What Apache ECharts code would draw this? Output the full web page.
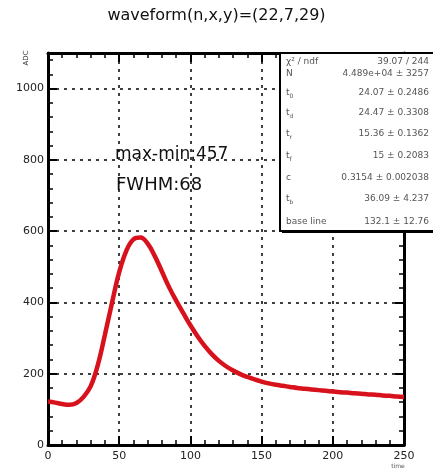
<!DOCTYPE html>
<html>
<head>
    <meta charset="utf-8">
    <title>waveform</title>
    <script src="https://cdn.jsdelivr.net/npm/echarts@6/dist/echarts.min.js"></script>
    <style>
        * {
            margin: 0;
            padding: 0;
        }
        #main {
            width: 433px;
            height: 471px;
            background: #fff;
        }
    </style>
</head>
<body>
<div id="main"></div>
<script>
    // sample times and fitted waveform values
    var times = [0, 5, 10, 15, 20, 25, 30, 35, 40, 45, 50, 55, 60, 65, 70, 75, 80, 85, 90, 95,
        100, 105, 110, 115, 120, 125, 130, 135, 140, 145, 150, 155, 160, 165, 170, 175, 180, 185, 190, 195,
        200, 205, 210, 215, 220, 225, 230, 235, 240, 245, 250];
    var adc = [122, 119, 115, 113, 118, 135, 165, 225, 310, 400, 485, 545, 577, 582, 565, 530, 487, 443, 405, 370,
        336, 305, 278, 255, 236, 221, 209, 199, 191, 184, 178, 173, 169, 166, 163, 160, 158, 156, 154, 152,
        150, 148, 147, 145, 144, 142, 141, 139, 138, 136, 135];

    var xTicks = [0, 50, 100, 150, 200, 250];
    var yTicks = [0, 200, 400, 600, 800, 1000];

    var title = 'waveform(n,x,y)=(22,7,29)';
    var notes = ['max-min:457', 'FWHM:68'];

    // fit statistics box
    var statNames = [['χ² / ndf', ''], ['N', ''], ['t', '0'], ['t', 'd'], ['t', 'r'],
        ['t', 'f'], ['c', ''], ['t', 'b'], ['base line', '']];
    var statValues = ['39.07 / 244', '4.489e+04 ± 3257', '24.07 ± 0.2486', '24.47 ± 0.3308', '15.36 ± 0.1362',
        '15 ± 0.2083', '0.3154 ± 0.002038', '36.09 ± 4.237', '132.1 ± 12.76'];
    var statRows = [62, 74, 93, 113, 134, 156, 178, 199, 222];

    var font = 'DejaVu Sans';
    var chart = echarts.init(document.getElementById('main'));

    var points = times.map(function (t, i) { return [t, adc[i]]; });

    var tickAxis = {
        axisLine: { show: true, onZero: false, lineStyle: { color: '#000', width: 3 } },
        axisTick: { show: true, inside: true, length: 9, lineStyle: { color: '#000', width: 2 } },
        minorTick: { show: true, splitNumber: 5, length: 5, lineStyle: { color: '#000', width: 1.5 } }
    };

    var graphics = [
        {
            type: 'text', left: 'center', top: 8, z: 10,
            style: { text: title, font: '16px ' + font, fill: '#111' }
        },
        {
            type: 'text', x: 115, y: 155, z: 10,
            style: { text: notes[0], font: '17px ' + font, fill: '#111', verticalAlign: 'middle' }
        },
        {
            type: 'text', x: 116, y: 185, z: 10,
            style: { text: notes[1], font: '18px ' + font, fill: '#111', verticalAlign: 'middle' }
        },
        {
            type: 'text', x: 398, y: 466, z: 10,
            style: { text: 'time', font: '6px ' + font, fill: '#555', align: 'center', verticalAlign: 'middle' }
        },
        {
            type: 'text', x: 26, y: 58, rotation: Math.PI / 2, z: 10,
            style: { text: 'ADC', font: '7px ' + font, fill: '#333', align: 'center', verticalAlign: 'middle' }
        },
        {
            type: 'rect', z: 20,
            shape: { x: 282, y: 55, width: 160, height: 178 },
            style: { fill: '#000' }
        },
        {
            type: 'rect', z: 21,
            shape: { x: 280, y: 53, width: 160, height: 178 },
            style: { fill: '#fff', stroke: '#000', lineWidth: 2 }
        }
    ];

    statNames.forEach(function (n, i) {
        graphics.push({
            type: 'text', x: 286, y: statRows[i], z: 22,
            style: {
                text: '{m|' + n[0] + '}' + (n[1] ? '{s|' + n[1] + '}' : ''),
                verticalAlign: 'middle',
                rich: {
                    m: { font: '9px ' + font, fill: '#555' },
                    s: { font: '6px ' + font, fill: '#555', padding: [6, 0, 0, 0] }
                }
            }
        });
        graphics.push({
            type: 'text', x: 429, y: statRows[i], z: 22,
            style: { text: statValues[i], font: '9px ' + font, fill: '#555', align: 'right', verticalAlign: 'middle' }
        });
    });

    var option = {
        backgroundColor: '#fff',
        animation: false,
        grid: { left: 48, right: 29, top: 53, bottom: 26 },
        xAxis: [
            Object.assign({
                type: 'value', min: 0, max: 250, interval: 50,
                axisLabel: {
                    color: '#222', fontFamily: font, fontSize: 11, margin: 6,
                    customValues: xTicks,
                    formatter: function (v) { return String(v); }
                },
                splitLine: { show: true, lineStyle: { color: '#000', type: [3, 5], width: 1.5 } }
            }, tickAxis),
            Object.assign({
                type: 'value', min: 0, max: 250, interval: 50, position: 'top',
                axisLabel: { show: false }, splitLine: { show: false }
            }, tickAxis)
        ],
        yAxis: [
            Object.assign({
                type: 'value', min: 0, max: 1100, interval: 200,
                axisLabel: {
                    color: '#222', fontFamily: font, fontSize: 11, margin: 4,
                    customValues: yTicks,
                    formatter: function (v) { return String(v); }
                },
                splitLine: { show: true, lineStyle: { color: '#000', type: [3, 5], width: 1.5 } }
            }, tickAxis),
            Object.assign({
                type: 'value', min: 0, max: 1100, interval: 200, position: 'right',
                axisLabel: { show: false }, splitLine: { show: false }
            }, tickAxis)
        ],
        series: [
            {
                type: 'line',
                data: points,
                smooth: 0.4,
                symbol: 'none',
                clip: true,
                lineStyle: { color: '#d8121c', width: 4.5 },
                z: 5
            }
        ],
        graphic: graphics
    };
    chart.setOption(option);
</script>
</body>
</html>
